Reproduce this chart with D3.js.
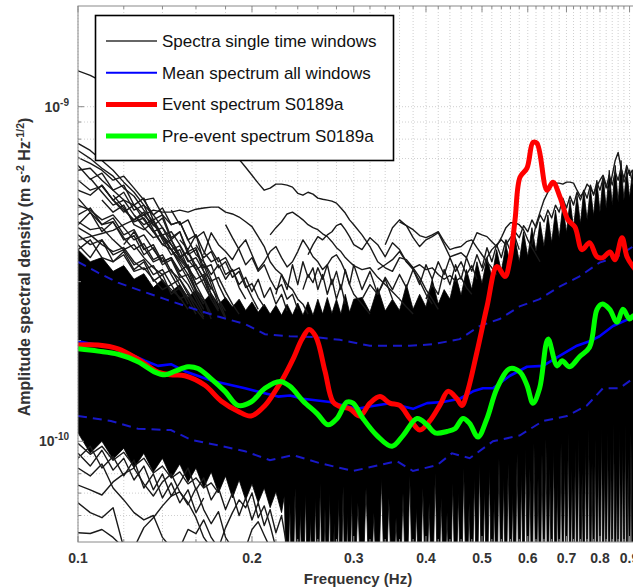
<!DOCTYPE html>
<html><head><meta charset="utf-8">
<script src="https://cdn.jsdelivr.net/npm/d3@7"></script>
<style>body{margin:0;background:#fff} svg{display:block} text{font-family:"Liberation Sans",Arial,Helvetica,sans-serif}</style>
</head><body><svg id="c" width="633" height="588"></svg>
<script>
// Values in units of 1e-10 m s^-2 Hz^-1/2
const UNIT = 1e-10;

// ---- axes ----
const xTickValues = [0.1,0.2,0.3,0.4,0.5,0.6,0.7,0.8,0.9];
const xTickLabels = ["0.1","0.2","0.3","0.4","0.5","0.6","0.7","0.8","0.9"];
const xMinorTicks = [0.12,0.14,0.16,0.18,0.22,0.24,0.26,0.28,0.32,0.34,0.36,0.38,0.42,0.44,0.46,0.48,0.52,0.54,0.56,0.58,0.62,0.64,0.66,0.68,0.72,0.74,0.76,0.78,0.82,0.84,0.86,0.88,0.92,0.94,0.96,0.98];
const yTickValues = [1e-10, 1e-9];
const yTickExponents = ["-10","-9"];
const yMinorTicks = [6e-11,7e-11,8e-11,9e-11,2e-10,3e-10,4e-10,5e-10,6e-10,7e-10,8e-10,9e-10];

// ---- frequency bins of the single-window spectra (Hz) ----
const freqGrid = [0.100,0.105,0.110,0.115,0.120,0.125,0.130,0.135,0.140,0.145,0.150,0.155,0.160,0.165,0.170,0.175,0.180,0.185,0.190,0.195,0.200,0.205,0.210,0.215,0.220,0.225,0.230,0.235,0.240,0.245,0.250,0.255,0.260,0.265,0.270,0.275,0.280,0.285,0.290,0.295,0.300,0.31,0.32,0.33,0.34,0.35,0.36,0.37,0.38,0.39,0.40,0.41,0.42,0.43,0.44,0.45,0.46,0.47,0.48,0.49,0.50,0.51,0.52,0.53,0.54,0.55,0.56,0.57,0.58,0.59,0.60,0.61,0.62,0.63,0.64,0.65,0.66,0.67,0.68,0.69,0.70,0.71,0.72,0.73,0.74,0.75,0.76,0.77,0.78,0.79,0.80,0.81,0.82,0.83,0.84,0.85,0.86,0.87,0.88,0.89,0.90,0.91,0.92,0.93,0.94,0.95];

// dense bulk of the single-window spectra: upper envelope (on freqGrid)
const coreTop = [3.74,3.44,3.54,3.22,3.35,3.05,3.17,2.88,3.05,2.80,2.94,2.69,2.84,2.62,2.77,2.57,2.69,2.52,2.66,2.46,2.61,2.43,2.57,2.40,2.55,2.38,2.57,2.38,2.59,2.38,2.61,2.38,2.66,2.40,2.69,2.41,2.66,2.40,2.75,2.43,2.66,
 2.69,2.43,2.88,2.45,2.66,2.46,2.94,2.48,2.75,2.52,3.05,2.57,2.84,2.66,3.15,2.73,3.26,2.84,3.44,2.96,3.54,3.09,3.74,3.22,3.87,3.35,4.06,3.44,4.23,3.56,4.35,3.69,4.53,3.82,4.75,3.92,4.91,4.06,5.08,4.20,5.26,4.35,5.44,4.47,5.63,4.59,5.71,4.72,6.03,4.84,6.20,4.98,6.46,5.08,6.68,5.19,6.91,5.26,6.55,5.33,6.37,5.40,6.24,5.44,6.03];
// lower envelope of the bulk (spiky, own frequency points)
const bulkLowFreq = [0.100,0.105,0.110,0.115,0.120,0.125,0.130,0.135,0.140,0.145,0.150,0.155,0.160,0.165,0.170,0.175,0.180,0.185,0.190,0.195,0.200,0.205,0.210,0.215,0.220,0.225,
 0.2275,0.2300,0.2325,0.2350,0.2375,0.2400,0.2425,0.2450,0.2475,0.2500,0.2525,0.2550,0.2575,0.2600,0.2625,0.2650,0.2675,0.2700,0.2725,0.2750,0.2775,0.2800,0.2825,0.2850,0.2875,0.2900,0.2925,0.2950,0.2975,0.3000,
 0.305,0.310,0.315,0.320,0.325,0.330,0.335,0.340,0.345,0.350,0.355,0.360,0.365,0.370,0.375,0.380,0.385,0.390,0.395,0.400,0.405,0.410,0.415,0.420,0.425,0.430,0.435,0.440,0.445,0.450,0.455,0.460,0.465,0.470,0.475,0.480,0.485,0.490,0.495,0.500,0.505,0.510,0.515,0.520,0.525,0.530,0.535,0.540,0.545,0.550,0.555,0.560,0.565,0.570,0.575,0.580,0.585,0.590,0.595,0.600,
 0.605,0.610,0.615,0.620,0.625,0.630,0.635,0.640,0.645,0.650,0.655,0.660,0.665,0.670,0.675,0.680,0.685,0.690,0.695,0.700,0.705,0.710,0.715,0.720,0.725,0.730,0.735,0.740,0.745,0.750,0.755,0.760,0.765,0.770,0.775,0.780,0.785,0.790,0.795,0.800,0.805,0.810,0.815,0.820,0.825,0.830,0.835,0.840,0.845,0.850,0.855,0.860,0.865,0.870,0.875,0.880,0.885,0.890,0.895,0.900,0.905,0.910,0.915,0.920,0.925,0.930,0.935,0.940,0.945,0.950];
const bulkLow = [1.06,0.921,1.00,0.884,0.953,0.832,0.921,0.81,0.89,0.777,0.855,0.756,0.832,0.725,0.81,0.701,0.788,0.677,0.766,0.668,0.746,0.655,0.725,0.633,0.706,0.612,
 0.686,0.3,0.655,0.3,0.725,0.3,0.625,0.3,0.701,0.3,0.591,0.3,0.677,0.3,0.751,0.3,0.633,0.3,0.701,0.3,0.571,0.3,0.677,0.3,0.735,0.3,0.612,0.3,0.701,0.3,
 0.655,0.3,0.725,0.3,0.612,0.3,0.777,0.3,0.677,0.3,0.591,0.3,0.701,0.3,0.788,0.3,0.633,0.3,0.725,0.3,0.655,0.3,0.804,0.3,0.677,0.3,0.612,0.3,0.751,0.3,0.701,0.3,0.832,0.3,0.655,0.3,0.777,0.3,0.86,0.3,0.725,0.3,0.832,0.3,0.677,0.3,0.89,0.3,0.777,0.3,0.86,0.3,0.701,0.3,0.921,0.3,0.804,0.3,0.953,0.3,
 0.832,0.3,0.986,0.3,0.777,0.3,0.921,0.3,1.02,0.3,0.832,0.3,0.953,0.3,0.751,0.3,0.986,0.3,0.89,0.3,1.06,0.3,0.832,0.3,0.953,0.3,1.02,0.3,0.804,0.3,0.986,0.3,1.09,0.3,0.86,0.3,1.02,0.3,0.921,0.3,1.11,0.3,0.89,0.3,1.06,0.3,0.953,0.3,1.13,0.3,0.832,0.3,1.09,0.3,0.986,0.3,1.13,0.3,0.89,0.3,1.06,0.3,0.953,0.3,1.09,0.3,0.986,0.3,1.02,0.3];

// individual single-window spectra outside the bulk (first bin index + values)
const windowStartBin = [0,0,0,0,0,0,0,0,2,4,0,0,23,30,13,10,16,44,46,43,60,71,50,41,29,24,0,0,0,0,0,5,15,10,0,19,0,0,0,0,0,1,3,5,8,0,12,0,0,0,2,6,9];
const windowSpectra = [
 [7.77,7.40,6.91,6.46,5.95,5.55,5.08,4.75,4.35,4.00,3.61,3.30,2.94,2.66,2.40],
 [7.05,6.77,6.46,6.03,6.20,5.71,5.26,5.33,4.75,4.44,4.53,4.00,3.61,3.44,3.05,2.66,2.35],
 [6.46,6.55,6.03,5.63,5.26,5.08,4.75,4.44,4.14,4.23,3.87,3.49,3.26,3.37,2.94,2.57,2.32],
 [5.63,5.44,5.83,5.26,4.91,4.59,4.84,4.29,3.87,3.74,3.49,3.26,2.84,2.66,2.32],
 [5.08,4.91,4.59,4.75,4.35,4.00,4.14,3.74,3.44,3.54,3.15,2.94,2.66,2.40],
 [4.53,4.29,4.35,4.00,3.74,3.87,3.54,3.30,3.15,3.26,2.94,2.66,2.40],
 [4.14,3.87,4.00,3.61,3.74,3.37,3.49,3.15,3.26,2.94,3.05,2.75,2.57,2.35],
 [3.74,4.00,3.54,3.44,3.61,3.22,3.30,3.05,2.84,2.94,2.66,2.75,2.48,2.32],
 [5.26,4.84,5.08,4.44,4.29,4.53,4.00,3.61,3.74,3.30,3.05,3.15,2.75,2.48],
 [3.87,4.23,3.74,3.87,3.44,3.54,3.22,3.37,2.94,3.05,2.66,2.45],
 [4.00,4.09,4.18,4.27,4.44,4.59,4.75,4.91,4.84,4.84,4.91,4.84,4.94,4.98,5.01,5.01,4.84,4.78,4.68,4.53,4.38,4.09,3.82,3.44,3.26,3.15,2.94,2.84,2.66,2.57,2.40],
 [12.8,12.4,11.9,11.5,11.0,10.4,9.86,9.41,9.09,8.78,8.49,8.26,8.04,7.93,7.72,7.51,7.30,7.10,6.96,6.59,6.24,5.91,5.63,5.71,5.87,5.87,5.83,5.75,5.51,5.44,5.55,5.48,5.33,5.29,5.26,5.22,5.15,4.98,4.81,4.59,4.44,4.14,3.82,3.44,3.30,3.22,3.54,3.49,3.30,3.09,2.84,2.66,2.48],
 [4.14,4.35,4.53,4.78,4.84,4.72,4.59,4.44,4.35,4.29,4.17,4.09,3.95,3.79,3.69,3.54,3.44,3.35,3.26,3.30,3.09,2.94,2.80,2.66,2.52,2.40],
 [3.61,3.87,4.09,4.00,4.14,4.23,4.41,4.47,4.29,4.09,3.87,3.74,4.06,3.87,3.56,3.92,3.74,3.44,3.26,3.01,2.75,2.57],
 [3.61,4.20,3.87,3.69,3.49,3.79,4.00,3.61,3.26,3.44,3.69,3.82,3.54,3.32,3.44,3.69,4.00,3.79,3.56,3.44,3.26,3.37,3.54,3.61,3.44,3.22,2.94,2.75,2.57,2.40],
 [4.00,3.74,4.14,3.44,3.15,3.37,3.05,3.26,2.94,3.09,2.80,3.05,2.69,2.88,2.57,2.75,2.45],
 [4.44,4.06,3.74,3.37,3.54,3.22,3.37,3.05,2.84,2.94,2.66,2.75,2.48],
 [3.87,4.35,4.59,4.41,4.29,4.12,4.06,4.14,4.23,3.95,3.74,3.79,3.82,3.95,4.00,3.79,3.61,3.44,3.30,3.15],
 [4.53,4.41,4.06,3.82,4.00,4.09,4.20,3.87,3.56,3.61,3.66,3.54,3.87,4.20,4.14,4.09,3.95,3.82,4.06,4.35,4.50,4.50,4.44,4.29,4.00,3.79,3.61,3.44],
 [3.26,3.37,3.49,3.69,3.44,3.30,3.37,3.26,3.30,3.15,3.05,3.13,3.01,3.09,2.88,2.75],
 [3.22,3.54,3.74,3.87,4.00,3.87,4.06,4.23,4.06,4.41,4.23,4.59,4.35,4.75,4.53,4.91,4.65,5.08,4.84,5.33,4.98,5.40,5.08,5.55,5.26,5.63,5.33,5.83,5.44,5.95,5.63,6.11,5.71,6.24,5.83,6.37,6.03,6.55,6.11,6.68,6.24,6.46,6.11],
 [3.87,4.44,4.84,5.26,5.55,5.83,5.91,5.91,5.87,5.95,5.95,5.91,5.63,5.40,5.55,5.87,5.71,5.48,5.79,6.03,6.24,5.83,5.63,6.24,6.91,7.30,6.55,5.95,6.24,6.46,5.95,5.71],
 [2.66,2.94,2.75,3.26,2.94,3.37,3.05,3.54,3.22,3.61,3.30,3.79,3.44,3.87,3.54,4.00,3.69,4.09,3.74],
 [2.66,2.94,2.75,3.09,2.84,3.15,2.88,3.26,2.94,3.37,3.05,3.44,3.15,3.54,3.22,3.44,3.15,3.35,3.05],
 [2.84,3.15,2.98,3.30,3.05,3.37,2.94,3.22,2.84,3.26,2.94,3.37,2.84,3.22,2.75,3.05,2.66],
 [2.75,3.15,2.84,3.37,2.94,3.44,3.09,3.30,2.84,3.15,2.75,3.05,2.66,2.94,2.57],
 [0.921,0.843,0.94,0.82,0.89,0.766,0.843,0.716,0.799,0.686,0.751,0.832,0.716,0.777,0.668,0.725,0.625,0.701,0.60,0.677,0.582,0.655,0.56,0.625,0.533,0.60,0.48],
 [0.74,0.716,0.691,0.756,0.799,0.832,0.746,0.686,0.756,0.799,0.706,0.646,0.725,0.625,0.567,0.616,0.516,0.48],
 [0.533,0.53,0.545,0.516,0.48],
 [0.832,0.788,0.855,0.725,0.668,0.612,0.582,0.60,0.516,0.48],
 [0.655,0.612,0.591,0.633,0.48],
 [0.48,0.552,0.591,0.641,0.686,0.706,0.655,0.591,0.516,0.48],
 [0.48,0.552,0.612,0.668,0.633,0.701,0.591,0.641,0.56,0.48],
 [0.48,0.545,0.53,0.582,0.516,0.48],
 [0.986,0.914,0.966,0.878,0.927,0.843,0.89,0.804,0.843,0.777,0.81,0.746,0.777,0.725,0.751,0.701],
 [0.48,0.545,0.575,0.524,0.48],
 [0.89,0.966,0.832,0.90,0.788,0.878,0.725,0.799,0.677,0.751,0.655,0.716,0.612,0.677],
 [6.03,5.63,5.79,5.26,4.84,5.08,4.59,4.23,4.35,3.87,3.54,3.69,3.26,2.94,2.66],
 [4.75,4.98,4.44,4.53,4.06,3.74,3.90,3.49,3.61,3.22,3.05,2.80,2.57],
 [5.33,4.84,4.44,4.65,4.14,4.29,3.79,3.44,3.54,3.15,2.84,2.66],
 [4.35,4.14,3.87,3.69,3.79,3.44,3.26,3.35,3.01,2.84,2.69,2.48],
 [6.11,5.55,5.08,5.26,4.75,4.35,4.06,4.14,3.74,3.44,3.15,2.84,2.57],
 [5.44,4.98,4.53,4.65,4.23,3.87,4.00,3.54,3.30,3.37,3.05,2.75,2.48],
 [4.75,4.44,4.59,4.12,3.87,3.54,3.69,3.35,3.09,2.88,2.66,2.45],
 [4.06,3.74,3.84,3.44,3.54,3.22,3.01,3.09,2.80,2.57,2.40],
 [7.40,7.00,6.55,6.20,5.71,5.40,4.91,4.53,4.06,3.74,3.37,3.05,2.73,2.48],
 [3.87,3.54,3.69,3.30,3.44,3.09,3.22,2.88,2.96,2.69,2.52],
 [6.68,6.07,6.33,5.63,5.83,5.08,5.33,4.59,4.75,4.06,4.23,3.61,3.74,3.22,2.84],
 [4.44,4.84,4.23,4.53,4.00,4.12,3.61,3.79,3.37,3.49,3.09,3.15,2.80,2.57],
 [3.87,3.54,4.00,3.44,3.69,3.26,3.44,3.01,3.15,2.75,2.88,2.57],
 [5.83,5.26,5.55,4.91,5.08,4.41,4.65,4.00,4.23,3.69,3.79,3.30,3.37,2.94,2.66],
 [5.26,4.75,4.98,4.44,4.53,4.00,4.14,3.69,3.44,3.54,3.15,3.26,2.88,2.66],
 [4.91,4.44,4.59,4.06,4.23,3.74,3.44,3.54,3.22,3.30,2.94,2.69,2.48]
];

// mean spectrum and +/- spread
const meanFreq = [0.100,0.1173,0.1306,0.1375,0.1448,0.1531,0.1698,0.1945,0.2218,0.2326,0.2451,0.2727,0.3039,0.3198,0.3463,0.3798,0.4017,0.4280,0.4575,0.4825,0.5018,0.5224,0.5589,0.5981,0.6375,0.6811,0.7298,0.7674,0.7986,0.8425,0.9125,1.0];
const meanAsd = [1.99,1.89,1.74,1.68,1.70,1.62,1.52,1.44,1.36,1.37,1.34,1.31,1.25,1.27,1.30,1.25,1.30,1.31,1.34,1.41,1.44,1.44,1.57,1.67,1.68,1.80,1.93,1.99,2.06,2.21,2.35,2.57];
const upperFreq = [0.100,0.1083,0.1173,0.1306,0.1414,0.1550,0.1747,0.1945,0.2106,0.2326,0.2551,0.2838,0.3198,0.3749,0.4114,0.4575,0.4954,0.5364,0.5808,0.6290,0.6811,0.7375,0.7986,0.8559,0.9125,1.0];
const upperAsd = [3.44,3.19,2.98,2.79,2.66,2.52,2.36,2.24,2.09,2.06,2.05,2.01,1.93,1.93,1.95,2.02,2.21,2.32,2.53,2.66,2.90,3.11,3.42,3.56,3.82,4.14];
const lowerFreq = [0.100,0.1140,0.1270,0.1448,0.1569,0.1747,0.1945,0.2148,0.2355,0.2621,0.2991,0.3564,0.3798,0.4180,0.4437,0.4760,0.5224,0.5808,0.6375,0.7015,0.7595,0.8093,0.8647,0.9125,1.0];
const lowerAsd = [1.19,1.15,1.09,1.08,1.01,0.973,0.934,0.878,0.909,0.860,0.815,0.872,0.815,0.849,0.921,0.890,1.0,1.04,1.15,1.19,1.28,1.44,1.44,1.54,1.67];

// event spectrum S0189a
const eventFreq = [0.100,0.1083,0.1173,0.1270,0.1375,0.1448,0.1531,0.1658,0.1768,0.1891,0.1992,0.2106,0.2192,0.2263,0.2355,0.2441,0.2510,0.2581,0.2675,0.2762,0.2840,0.2955,0.3074,0.3200,0.3330,0.3463,0.3603,0.3749,0.3902,0.4060,0.4225,0.4366,0.4525,0.4617,0.4710,0.4901,0.5101,0.5307,0.5481,0.5589,0.5703,0.5818,0.5981,0.6126,0.6225,0.6478,0.6634,0.6822,0.7043,0.7241,0.7447,0.7674,0.7906,0.8093,0.8324,0.8492,0.8734,0.8909,0.9125,0.9543,1.0];
const eventAsd = [1.94,1.94,1.89,1.76,1.61,1.58,1.57,1.47,1.32,1.23,1.19,1.28,1.41,1.54,1.76,2.02,2.16,2.05,1.62,1.31,1.27,1.25,1.19,1.30,1.36,1.30,1.28,1.17,1.08,1.15,1.28,1.41,1.34,1.28,1.39,1.85,2.53,3.33,3.11,3.49,4.59,6.16,6.55,7.82,7.77,5.63,5.95,5.37,4.59,4.37,3.74,3.92,3.56,3.54,3.68,3.49,4.06,3.56,3.33,3.05,2.94];

// pre-event spectrum S0189a
const preFreq = [0.100,0.1083,0.1173,0.1270,0.1359,0.1414,0.1472,0.1550,0.1613,0.1698,0.1796,0.1891,0.1992,0.2106,0.2236,0.2326,0.2451,0.2592,0.2707,0.2806,0.2920,0.2991,0.3112,0.3291,0.3494,0.3650,0.3859,0.4017,0.4147,0.4349,0.4489,0.4635,0.4760,0.4920,0.5101,0.5307,0.5589,0.5818,0.5981,0.6126,0.6290,0.6504,0.6743,0.6879,0.7087,0.7375,0.7674,0.7906,0.8063,0.8310,0.8559,0.8767,0.8998,0.9125,0.9543,1.0];
const preAsd = [1.89,1.86,1.82,1.73,1.61,1.58,1.62,1.67,1.65,1.54,1.41,1.28,1.31,1.44,1.51,1.46,1.32,1.21,1.12,1.17,1.31,1.30,1.17,1.04,0.966,1.04,1.17,1.12,1.06,1.07,1.09,1.17,1.13,1.03,1.17,1.44,1.65,1.61,1.47,1.30,1.44,2.02,1.68,1.74,1.67,1.79,1.91,2.48,2.57,2.48,2.27,2.48,2.32,2.37,2.40,2.45];

const legendLabels = ["Spectra single time windows","Mean spectrum all windows","Event spectrum S0189a","Pre-event spectrum S0189a"];
const legendColors = ["#333333","#0000ff","#ff0000","#00ff00"];
const legendWidths = [1.5,2,5,5];

// ---- drawing ----
const svg = d3.select('#c');
const M = {left:78, top:6, right:656, bottom:542};
const x = d3.scaleLog().domain([0.1,1]).range([M.left, M.right]);
const y = d3.scaleLog().domain([0.5e-10, 2e-9]).range([M.bottom, M.top]);

svg.append('defs').append('clipPath').attr('id','plot')
  .append('rect').attr('x',M.left).attr('y',M.top).attr('width',M.right-M.left).attr('height',M.bottom-M.top);

const grid = svg.append('g').attr('stroke','#cfcfcf').attr('stroke-width',1).attr('stroke-dasharray','1,2');
xTickValues.concat(xMinorTicks).forEach(v=>{
  grid.append('line').attr('x1',x(v)).attr('x2',x(v)).attr('y1',M.top).attr('y2',M.bottom);
});
yTickValues.concat(yMinorTicks).forEach(v=>{
  grid.append('line').attr('x1',M.left).attr('x2',M.right).attr('y1',y(v)).attr('y2',y(v));
});

const plot = svg.append('g').attr('clip-path','url(#plot)');
const P = (f,v)=>[x(f), y(v*UNIT)];
const line = d3.line();

// bulk polygon: upper envelope forward, lower envelope backward
const topPts = freqGrid.map((f,i)=>P(f, coreTop[i]));
const lowPts = bulkLowFreq.map((f,i)=>P(f, bulkLow[i])).reverse();
plot.append('path').attr('d',line(topPts.concat(lowPts))+'Z')
  .attr('fill','#000').attr('stroke','#000').attr('stroke-width',0.8).attr('stroke-linejoin','round');

windowSpectra.forEach((arr,i)=>{
  const s = windowStartBin[i];
  const pts = arr.map((v,k)=>P(freqGrid[s+k], v));
  plot.append('path').attr('d',line(pts)).attr('fill','none').attr('stroke','#1a1a1a').attr('stroke-width',1.4).attr('stroke-linejoin','round');
});

// dashed spread
[[upperFreq,upperAsd],[lowerFreq,lowerAsd]].forEach(([F,A])=>{
  plot.append('path').attr('d',line(F.map((f,i)=>P(f,A[i]))))
    .attr('fill','none').attr('stroke','#1818c8').attr('stroke-width',2).attr('stroke-dasharray','9,6');
});
plot.append('path').attr('d',line(meanFreq.map((f,i)=>P(f,meanAsd[i]))))
  .attr('fill','none').attr('stroke','#0000ff').attr('stroke-width',2.6).attr('stroke-linejoin','round');

const smooth = d3.line().curve(d3.curveCatmullRom.alpha(0.5));
plot.append('path').attr('d',smooth(eventFreq.map((f,i)=>P(f,eventAsd[i]))))
  .attr('fill','none').attr('stroke','#ff0000').attr('stroke-width',5).attr('stroke-linejoin','round');
plot.append('path').attr('d',smooth(preFreq.map((f,i)=>P(f,preAsd[i]))))
  .attr('fill','none').attr('stroke','#00ff00').attr('stroke-width',5).attr('stroke-linejoin','round');

// frame and ticks
const axc = '#8a8a8a';
svg.append('rect').attr('x',M.left).attr('y',M.top).attr('width',M.right-M.left).attr('height',M.bottom-M.top)
  .attr('fill','none').attr('stroke',axc).attr('stroke-width',1);
const tk = svg.append('g').attr('stroke',axc).attr('stroke-width',1);
xTickValues.forEach(v=>{
  tk.append('line').attr('x1',x(v)).attr('x2',x(v)).attr('y1',M.bottom).attr('y2',M.bottom-6);
  tk.append('line').attr('x1',x(v)).attr('x2',x(v)).attr('y1',M.top).attr('y2',M.top+6);
});
xMinorTicks.forEach(v=>{
  tk.append('line').attr('x1',x(v)).attr('x2',x(v)).attr('y1',M.bottom).attr('y2',M.bottom-3);
  tk.append('line').attr('x1',x(v)).attr('x2',x(v)).attr('y1',M.top).attr('y2',M.top+3);
});
yTickValues.forEach(v=>{
  tk.append('line').attr('x1',M.left).attr('x2',M.left+6).attr('y1',y(v)).attr('y2',y(v));
});
yMinorTicks.forEach(v=>{
  tk.append('line').attr('x1',M.left).attr('x2',M.left+3).attr('y1',y(v)).attr('y2',y(v));
});

// tick labels
const lab = svg.append('g').attr('fill','#333').attr('font-weight','bold').attr('font-size',14);
xTickValues.forEach((v,i)=>{
  lab.append('text').attr('x',x(v)).attr('y',563).attr('text-anchor','middle').text(xTickLabels[i]);
});
yTickValues.forEach((v,i)=>{
  const t = lab.append('text').attr('x',69).attr('y',y(v)+5).attr('text-anchor','end');
  t.append('tspan').text('10');
  t.append('tspan').attr('dy',-6).attr('font-size',10).text(yTickExponents[i]);
});

// axis titles
svg.append('text').attr('x',358).attr('y',584).attr('text-anchor','middle')
  .attr('font-weight','bold').attr('font-size',15).attr('fill','#333').text('Frequency (Hz)');
const yl = svg.append('text').attr('transform','translate(30,267) rotate(-90)').attr('text-anchor','middle')
  .attr('font-weight','bold').attr('font-size',16).attr('fill','#333');
yl.append('tspan').text('Amplitude spectral density (m s');
yl.append('tspan').attr('dy',-6).attr('font-size',10.5).text('-2');
yl.append('tspan').attr('dy',6).text(' Hz');
yl.append('tspan').attr('dy',-6).attr('font-size',10.5).text('-1/2');
yl.append('tspan').attr('dy',6).text(')');

// legend
const lg = svg.append('g');
lg.append('rect').attr('x',95.5).attr('y',15.5).attr('width',298).attr('height',145)
  .attr('fill','#fff').attr('stroke','#000').attr('stroke-width',1.6);
legendLabels.forEach((t,i)=>{
  const yy = 41 + i*31.7;
  lg.append('line').attr('x1',106).attr('x2',157).attr('y1',yy).attr('y2',yy)
    .attr('stroke',legendColors[i]).attr('stroke-width',legendWidths[i]);
  lg.append('text').attr('x',162).attr('y',yy+6).attr('font-size',17).attr('fill','#111').text(t);
});
</script></body></html>
